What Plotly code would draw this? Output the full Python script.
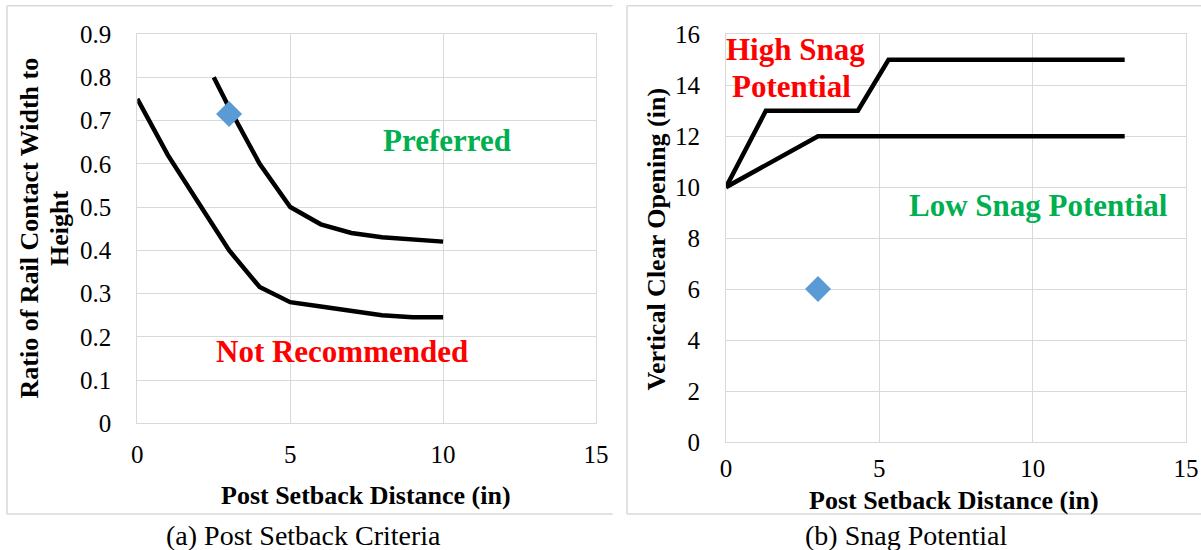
import plotly.graph_objects as go

# ---- data -------------------------------------------------------------
# (a) post setback criteria: ratio of rail contact width to height
setback_lower = [0, 1, 2, 3, 4, 5, 6, 7, 8, 9, 10]
ratio_lower = [0.75, 0.62, 0.51, 0.40, 0.315, 0.28, 0.27, 0.26, 0.25, 0.245, 0.245]
setback_upper = [2.5, 3, 4, 5, 6, 7, 8, 9, 10]
ratio_upper = [0.80, 0.73, 0.60, 0.50, 0.46, 0.44, 0.43, 0.425, 0.42]
case_setback_a = [3]
case_ratio = [0.715]

# (b) snag potential: vertical clear opening
snag_high_x = [0, 1.3, 4.3, 5.3, 13]
snag_high_y = [10, 13, 13, 15, 15]
snag_low_x = [0, 3, 13]
snag_low_y = [10, 12, 12]
case_setback_b = [3]
case_opening = [6]

W, H = 1201, 550
SERIF = "Times New Roman, Liberation Serif, Tinos, DejaVu Serif, serif"
GRID = "#D9D9D9"
BLUE = "#5B9BD5"
GREEN = "#00B050"
RED = "#FF0000"


def px(x):
    return x / W


def py(y):
    return 1 - y / H


fig = go.Figure()

line_style = dict(color="black", width=4.5)
marker_style = dict(symbol="diamond", size=20, color=BLUE)

fig.add_trace(go.Scatter(x=setback_lower, y=ratio_lower, mode="lines",
                         line=line_style, xaxis="x", yaxis="y"))
fig.add_trace(go.Scatter(x=setback_upper, y=ratio_upper, mode="lines",
                         line=line_style, xaxis="x", yaxis="y"))
fig.add_trace(go.Scatter(x=case_setback_a, y=case_ratio, mode="markers",
                         marker=marker_style, xaxis="x", yaxis="y"))

fig.add_trace(go.Scatter(x=snag_high_x, y=snag_high_y, mode="lines",
                         line=line_style, xaxis="x2", yaxis="y2"))
fig.add_trace(go.Scatter(x=snag_low_x, y=snag_low_y, mode="lines",
                         line=line_style, xaxis="x2", yaxis="y2"))
fig.add_trace(go.Scatter(x=case_setback_b, y=case_opening, mode="markers",
                         marker=marker_style, xaxis="x2", yaxis="y2"))

tick_font = dict(family=SERIF, size=25, color="black")
common_axis = dict(showgrid=True, gridcolor=GRID, gridwidth=1,
                   showline=True, linecolor=GRID, linewidth=1, mirror=True,
                   zeroline=False, tickfont=tick_font, ticks="outside",
                   tickcolor="rgba(0,0,0,0)", fixedrange=True,
                   automargin=False)

fig.update_layout(
    width=W, height=H,
    margin=dict(l=0, r=0, t=0, b=0),
    paper_bgcolor="white", plot_bgcolor="white",
    showlegend=False,
    font=dict(family=SERIF),
    xaxis=dict(domain=[px(137.3), px(596)], anchor="y", range=[0, 15],
               dtick=5, tick0=0, ticklen=9, **common_axis),
    yaxis=dict(domain=[py(423.3), py(34)], anchor="x", range=[0, 0.9],
               dtick=0.1, tick0=0, ticklen=20, **common_axis),
    xaxis2=dict(domain=[px(726), px(1186)], anchor="y2", range=[0, 15],
                dtick=5, tick0=0, ticklen=4, **common_axis),
    yaxis2=dict(domain=[py(442), py(34.3)], anchor="x2", range=[0, 16],
                dtick=2, tick0=0, ticklen=20, **common_axis),
)

title_font = dict(family=SERIF, size=26, color="black", weight="bold")
label_font = dict(family=SERIF, size=31, weight="bold")
caption_font = dict(family=SERIF, size=28, color="black")

annotations = [
    # axis titles, panel (a)
    dict(text="Post Setback Distance (in)", x=px(366), y=py(495),
         font=title_font),
    dict(text="Ratio of Rail Contact Width to", x=px(28.5), y=py(228),
         textangle=-90, font=title_font),
    dict(text="Height", x=px(59), y=py(229), textangle=-90, font=title_font),
    # axis titles, panel (b)
    dict(text="Post Setback Distance (in)", x=px(954), y=py(500),
         font=title_font),
    dict(text="Vertical Clear Opening (in)", x=px(656), y=py(239.5),
         textangle=-90, font=title_font),
    # captions
    dict(text="(a) Post Setback Criteria", x=px(303), y=py(535),
         font=caption_font),
    dict(text="(b) Snag Potential", x=px(906), y=py(535), font=caption_font),
]
for a in annotations:
    a.update(xref="paper", yref="paper", showarrow=False,
             xanchor="center", yanchor="middle")

region_labels = [
    dict(text="Preferred", x=10.14, y=0.653, xref="x", yref="y",
         font=dict(color=GREEN, **label_font)),
    dict(text="Not Recommended", x=6.69, y=0.167, xref="x", yref="y",
         font=dict(color=RED, **label_font)),
    dict(text="High Snag", x=2.25, y=15.4, xref="x2", yref="y2",
         font=dict(color=RED, **label_font)),
    dict(text="Potential", x=2.15, y=13.95, xref="x2", yref="y2",
         font=dict(color=RED, **label_font)),
    dict(text="Low Snag Potential", x=10.2, y=9.3, xref="x2", yref="y2",
         font=dict(color=GREEN, **label_font)),
]
for a in region_labels:
    a.update(showarrow=False, xanchor="center", yanchor="middle")

fig.update_layout(annotations=annotations + region_labels)

# panel frames
frame = dict(type="line", xref="paper", yref="paper",
             line=dict(color=GRID, width=1.5))
shapes = [
    # panel (a): left, top, bottom edges
    dict(x0=px(7), x1=px(7), y0=py(5.7), y1=py(514), **frame),
    dict(x0=px(7), x1=px(612.7), y0=py(5.7), y1=py(5.7), **frame),
    dict(x0=px(7), x1=px(612.7), y0=py(514), y1=py(514), **frame),
    # panel (b): left, top, bottom edges
    dict(x0=px(627), x1=px(627), y0=py(5.7), y1=py(514), **frame),
    dict(x0=px(627), x1=px(1201), y0=py(5.7), y1=py(5.7), **frame),
    dict(x0=px(627), x1=px(1201), y0=py(514), y1=py(514), **frame),
]
fig.update_layout(shapes=shapes)

fig.write_html("out.html", config={"displayModeBar": False})
